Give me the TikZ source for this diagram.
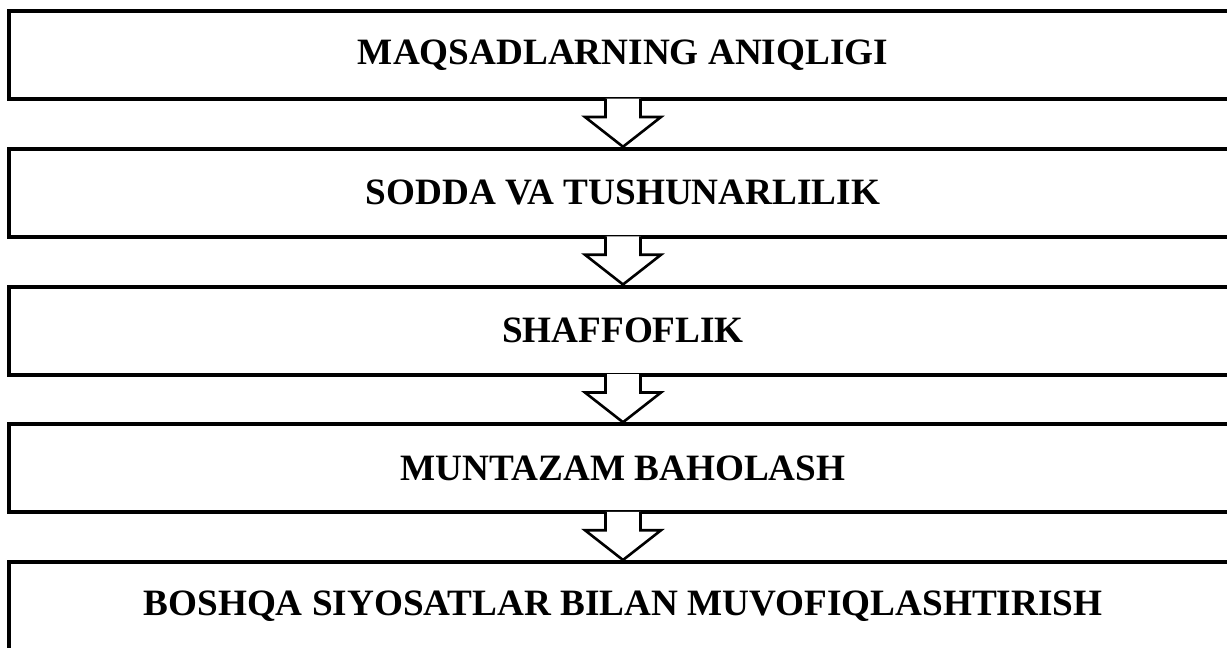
\documentclass[tikz,border=0pt]{standalone}
\usepackage{fontspec}
\setmainfont{Liberation Serif}
\usetikzlibrary{positioning}

\begin{document}
\begin{tikzpicture}[x=0.5pt,y=-0.5pt]
\tikzstyle{boxstyle}=[draw, rectangle, line width=2pt, minimum width=614pt, minimum height=44pt, inner sep=0pt, font=\fontsize{18.6}{22}\selectfont\bfseries]
\tikzstyle{arrowstyle}=[draw, fill=white, line width=1.3pt, line join=miter]
    \clip (0,0) rectangle (1227,648);
    \node[boxstyle] (maqsad) at (623,55) {MAQSADLARNING ANIQLIGI};
    \node[boxstyle] (sodda) at (623,192.75) {SODDA VA TUSHUNARLILIK};
    \node[boxstyle] (shaffof) at (623,330.5) {SHAFFOFLIK};
    \node[boxstyle] (muntazam) at (623,468.25) {MUNTAZAM BAHOLASH};
    \node[boxstyle] (boshqa) at (623,606) {BOSHQA SIYOSATLAR BILAN MUVOFIQLASHTIRISH};
    % block arrows between the boxes
    \draw[arrowstyle] ([xshift=-8.75pt,yshift=1.2pt]maqsad.south) -- ([xshift=-8.75pt,yshift=-8pt]maqsad.south) -- ([xshift=-19pt,yshift=-8pt]maqsad.south) -- (sodda.north) -- ([xshift=19pt,yshift=-8pt]maqsad.south) -- ([xshift=8.75pt,yshift=-8pt]maqsad.south) -- ([xshift=8.75pt,yshift=1.2pt]maqsad.south);
    \draw[arrowstyle] ([xshift=-8.75pt,yshift=1.2pt]sodda.south) -- ([xshift=-8.75pt,yshift=-8pt]sodda.south) -- ([xshift=-19pt,yshift=-8pt]sodda.south) -- (shaffof.north) -- ([xshift=19pt,yshift=-8pt]sodda.south) -- ([xshift=8.75pt,yshift=-8pt]sodda.south) -- ([xshift=8.75pt,yshift=1.2pt]sodda.south);
    \draw[arrowstyle] ([xshift=-8.75pt,yshift=1.2pt]shaffof.south) -- ([xshift=-8.75pt,yshift=-8pt]shaffof.south) -- ([xshift=-19pt,yshift=-8pt]shaffof.south) -- (muntazam.north) -- ([xshift=19pt,yshift=-8pt]shaffof.south) -- ([xshift=8.75pt,yshift=-8pt]shaffof.south) -- ([xshift=8.75pt,yshift=1.2pt]shaffof.south);
    \draw[arrowstyle] ([xshift=-8.75pt,yshift=1.2pt]muntazam.south) -- ([xshift=-8.75pt,yshift=-8pt]muntazam.south) -- ([xshift=-19pt,yshift=-8pt]muntazam.south) -- (boshqa.north) -- ([xshift=19pt,yshift=-8pt]muntazam.south) -- ([xshift=8.75pt,yshift=-8pt]muntazam.south) -- ([xshift=8.75pt,yshift=1.2pt]muntazam.south);
\end{tikzpicture}
\end{document}
